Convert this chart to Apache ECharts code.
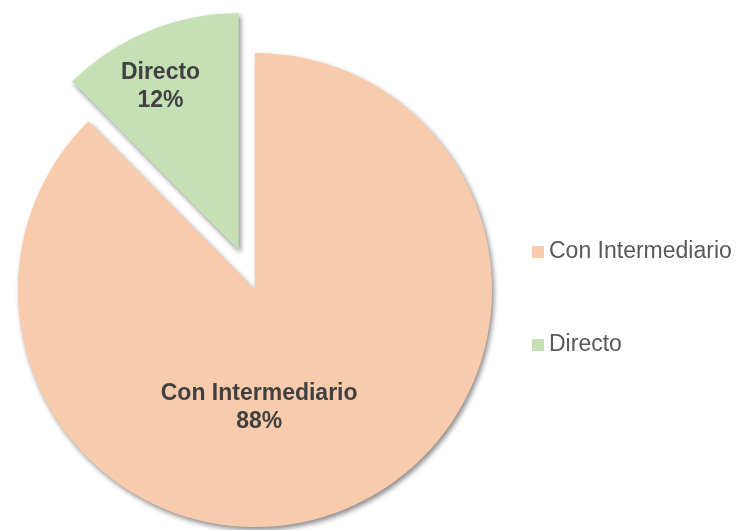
<!DOCTYPE html>
<html>
<head>
<meta charset="utf-8">
<script src="https://cdn.jsdelivr.net/npm/echarts@6/dist/echarts.min.js"></script>
<style>
  html, body { margin: 0; padding: 0; background: #fff; }
  #main { width: 736px; height: 530px; }
</style>
</head>
<body>
<div id="main"></div>
<script>
// canales de venta (porcentajes estimados, se muestran redondeados)
const categories = ['Con Intermediario', 'Directo']
const values = [87.6, 12.4]
const colors = ['#F8CBAD', '#C5E0B4']
// desplazamiento de etiquetas (Excel las coloca distinto que echarts)
const labelShift = [[-42, 5], [-32, -51]]

const myChart = echarts.init(document.getElementById('main'), null, { renderer: 'canvas' })

const pieData = categories.map((name, i) => ({
  name,
  value: values[i],
  selected: name === 'Directo',
  itemStyle: { color: colors[i] }
}))

myChart.setOption({
  animation: false,
  legend: {
    orient: 'vertical',
    left: 527,
    top: 234,
    itemWidth: 12,
    itemHeight: 12,
    itemGap: 67,
    icon: 'rect',
    selectedMode: false,
    textStyle: {
      fontFamily: 'Liberation Sans, Arial, sans-serif',
      fontSize: 23,
      lineHeight: 26,
      color: '#595959'
    },
    data: categories
  },
  series: [{
    type: 'pie',
    center: [255, 290],
    radius: 237,
    startAngle: 90,
    clockwise: true,
    percentPrecision: 0,
    selectedMode: 'single',
    selectedOffset: 43,
    avoidLabelOverlap: false,
    emphasis: { disabled: true },
    itemStyle: {
      borderWidth: 0,
      shadowBlur: 5,
      shadowOffsetX: 2,
      shadowOffsetY: 3,
      shadowColor: 'rgba(0,0,0,0.45)'
    },
    label: {
      show: true,
      position: 'inside',
      formatter: '{b}\n{d}%',
      fontFamily: 'Liberation Sans, Arial, sans-serif',
      fontWeight: 'bold',
      fontSize: 23,
      lineHeight: 28,
      color: '#404040',
      align: 'center'
    },
    labelLine: { show: false },
    labelLayout: params => ({
      dx: labelShift[params.dataIndex][0],
      dy: labelShift[params.dataIndex][1]
    }),
    data: pieData
  }]
})
</script>
</body>
</html>
